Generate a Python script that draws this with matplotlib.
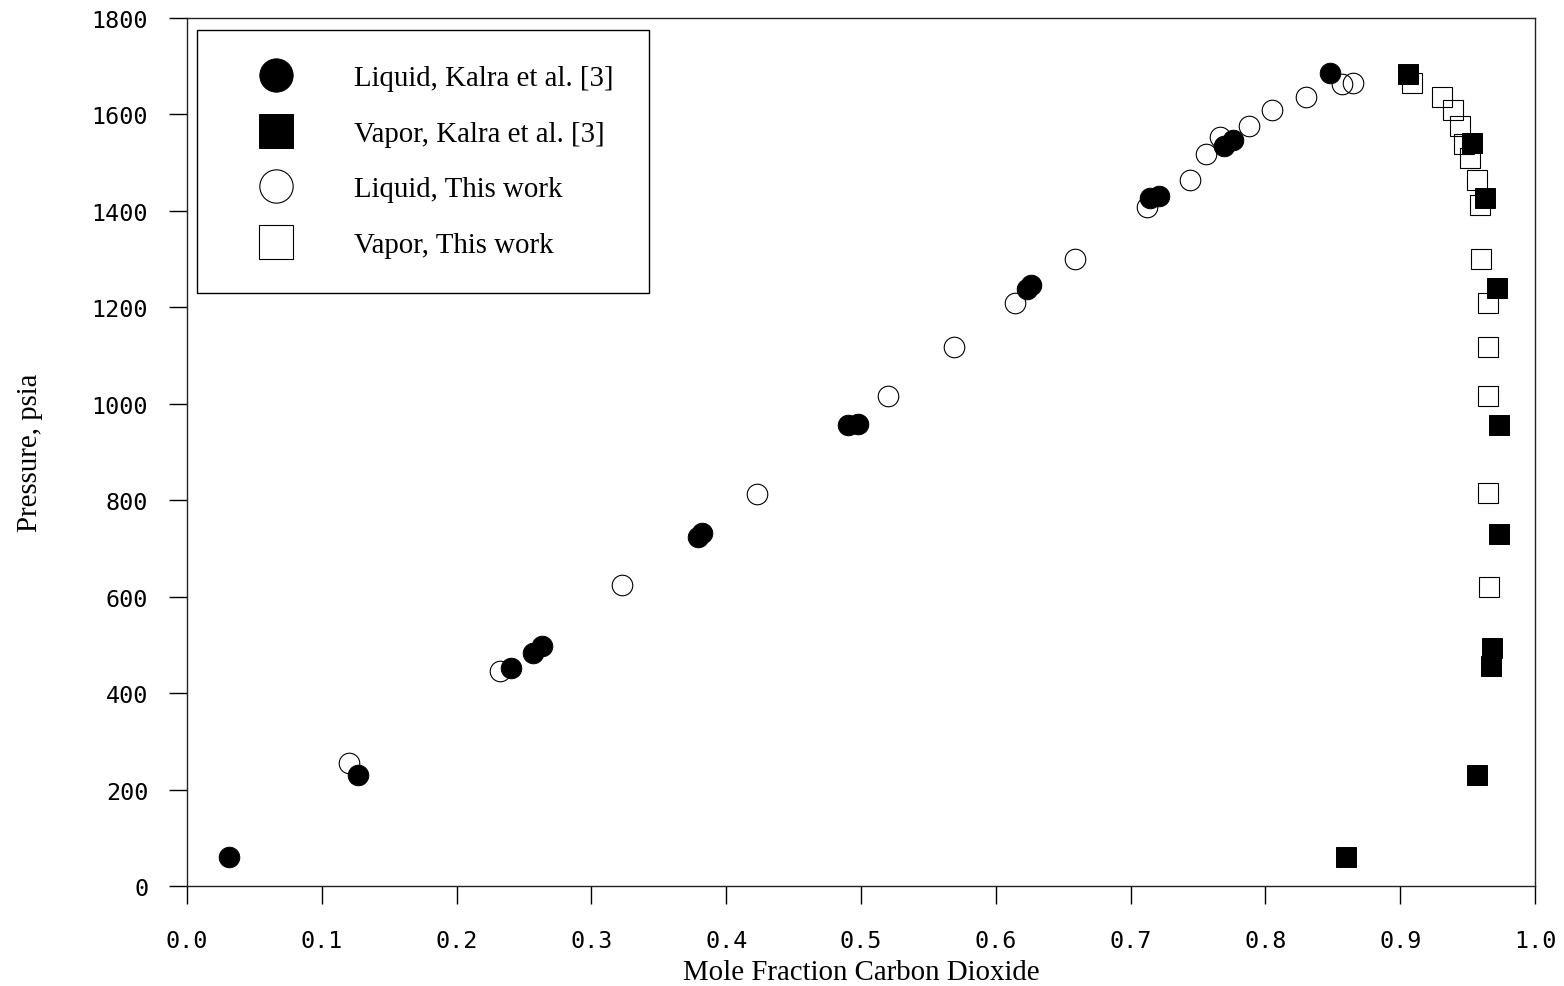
import matplotlib.pyplot as plt

# liquid phase, Kalra et al. [3]
liq_kalra_x = [0.031, 0.127, 0.240, 0.257, 0.263, 0.379, 0.382, 0.490, 0.498,
               0.623, 0.626, 0.714, 0.721, 0.769, 0.776, 0.848]
liq_kalra_p = [61, 230, 453, 483, 497, 724, 733, 956, 959,
               1238, 1246, 1427, 1431, 1535, 1547, 1686]

# vapor phase, Kalra et al. [3]
vap_kalra_x = [0.860, 0.957, 0.967, 0.968, 0.973, 0.973, 0.972, 0.963, 0.953, 0.906]
vap_kalra_p = [61, 230, 456, 493, 729, 957, 1241, 1427, 1541, 1684]

# liquid phase, this work
liq_this_x = [0.120, 0.232, 0.323, 0.423, 0.520, 0.569, 0.614, 0.659, 0.712,
              0.744, 0.756, 0.766, 0.788, 0.805, 0.830, 0.857, 0.865]
liq_this_p = [255, 446, 624, 813, 1017, 1117, 1210, 1300, 1409,
              1464, 1519, 1553, 1576, 1610, 1637, 1663, 1666]

# vapor phase, this work
vap_this_x = [0.909, 0.931, 0.939, 0.944, 0.947, 0.952, 0.957, 0.959, 0.960,
              0.965, 0.965, 0.965, 0.965, 0.966]
vap_this_p = [1666, 1637, 1609, 1577, 1539, 1510, 1464, 1412, 1300,
              1210, 1117, 1017, 815, 620]

xticks = [0.0, 0.1, 0.2, 0.3, 0.4, 0.5, 0.6, 0.7, 0.8, 0.9, 1.0]
yticks = [0, 200, 400, 600, 800, 1000, 1200, 1400, 1600, 1800]

serif = "Liberation Serif"
mono = "DejaVu Sans Mono"

fig = plt.figure(figsize=(15.64, 9.87), dpi=100)
ax = fig.add_axes([0.1196, 0.1013, 0.8619, 0.8794])

ms = 14.8
ax.plot(liq_kalra_x, liq_kalra_p, "o", ms=ms, mfc="black", mec="black", mew=0.7,
        label="Liquid, Kalra et al. [3]", zorder=4)
ax.plot(vap_kalra_x, vap_kalra_p, "s", ms=ms, mfc="black", mec="black", mew=0.7,
        label="Vapor, Kalra et al. [3]", zorder=4)
ax.plot(liq_this_x, liq_this_p, "o", ms=ms, mfc="none", mec="black", mew=0.8,
        label="Liquid, This work", zorder=3)
ax.plot(vap_this_x, vap_this_p, "s", ms=ms, mfc="none", mec="black", mew=0.8,
        label="Vapor, This work", zorder=3)

ax.set_xlim(0, 1.0)
ax.set_ylim(0, 1800)
ax.set_xticks(xticks)
ax.set_yticks(yticks)
ax.set_xticklabels(["%.1f" % t for t in xticks], fontfamily=mono, fontsize=16.8)
ax.set_yticklabels([str(t) for t in yticks], fontfamily=mono, fontsize=16.8)
ax.tick_params(direction="out", length=13, width=1, color="black")
ax.tick_params(axis="x", pad=18)
ax.tick_params(axis="y", pad=15)

for s in ax.spines.values():
    s.set_linewidth(1)
    s.set_color("#222222")

ax.set_xlabel("Mole Fraction Carbon Dioxide", fontfamily=serif, fontsize=20.8, labelpad=5)
ax.set_ylabel("Pressure, psia", fontfamily=serif, fontsize=20.8, labelpad=35)

leg = ax.legend(loc="upper left", bbox_to_anchor=(0.0074, 0.986), frameon=True,
                fancybox=False, edgecolor="black", framealpha=1,
                prop={"family": serif, "size": 20.8}, markerscale=1.62,
                borderpad=1.2, handlelength=3.1, handletextpad=1.15,
                labelspacing=1.02, borderaxespad=0)
leg.get_frame().set_linewidth(1)

fig.savefig("out.png", dpi=100, facecolor="white")
